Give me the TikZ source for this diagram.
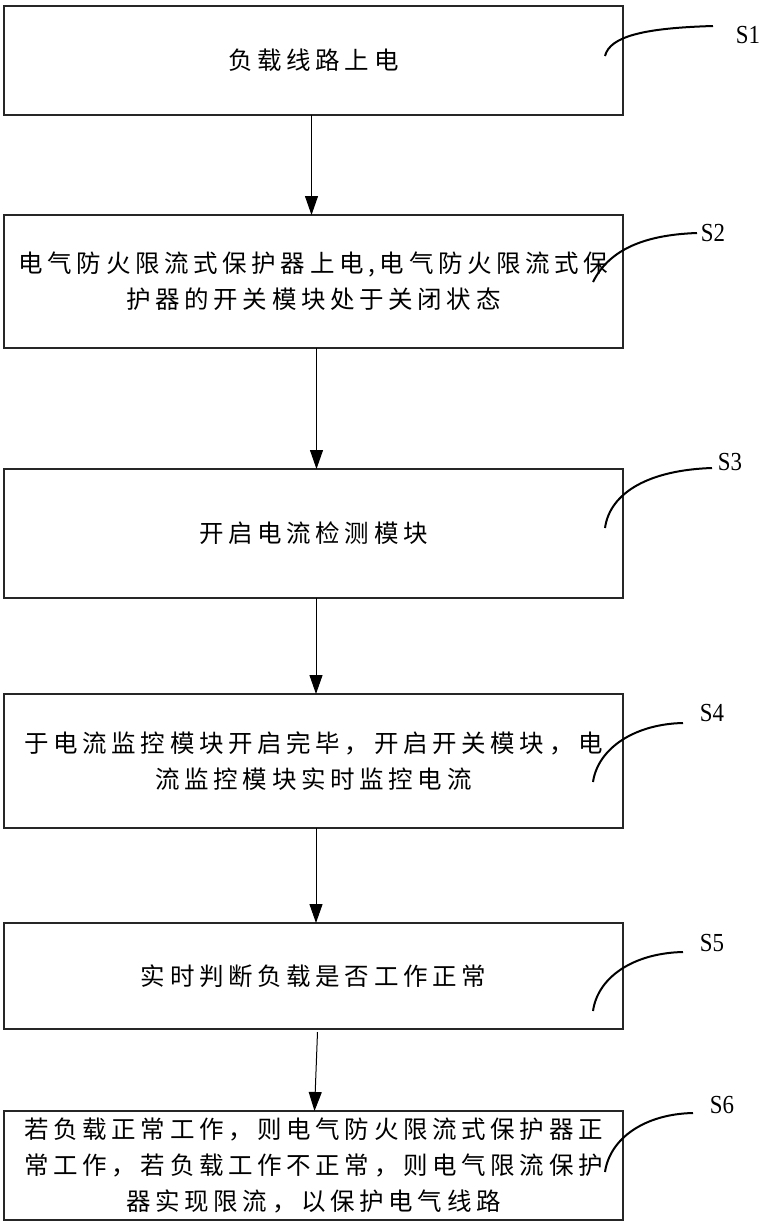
\documentclass[tikz,border=0pt]{standalone}
\usepackage{fontspec}
\setmainfont{Liberation Serif}
\newfontfamily\cjk[LetterSpace=19]{Noto Sans CJK SC}
\usetikzlibrary{arrows.meta}
\tikzset{
  stepbox/.style={draw=black!85, line width=1.5pt, rectangle, inner sep=0pt, outer sep=0pt,
    minimum width=619pt, align=center, font=\cjk\fontsize{24.5pt}{36pt}\selectfont},
  flow/.style={draw=black, line width=1pt, -{Triangle[length=19pt,width=13pt]}},
  lead/.style={draw=black, line width=2pt},
  steplabel/.style={font=\fontsize{26pt}{30pt}\selectfont, inner sep=0pt, xscale=0.88, transform shape}
}
\begin{document}
\begin{tikzpicture}[x=1pt,y=-1pt]
\useasboundingbox (0,0) rectangle (765,1224);
\node[stepbox, minimum height=109pt] (b1) at (313.5,60.5) {负载线路上电};
\node[stepbox, minimum height=133pt] (b2) at (313.5,281.5) {电气防火限流式保护器上电,电气防火限流式保\\护器的开关模块处于关闭状态};
\node[stepbox, minimum height=129pt] (b3) at (313.5,533.5) {开启电流检测模块};
\node[stepbox, minimum height=134pt] (b4) at (313.5,761) {于电流监控模块开启完毕，开启开关模块，电\\流监控模块实时监控电流};
\node[stepbox, minimum height=106pt] (b5) at (313.5,976) {实时判断负载是否工作正常};
\node[stepbox, minimum height=109pt] (b6) at (313.5,1165.5) {若负载正常工作，则电气防火限流式保护器正\\常工作，若负载工作不正常，则电气限流保护\\器实现限流，以保护电气线路};

\draw[flow] ([xshift=-2pt]b1.south) -- ([xshift=-2pt]b2.north);
\draw[flow] ([xshift=3pt]b2.south) -- ([xshift=3pt]b3.north);
\draw[flow] ([xshift=2.5pt]b3.south) -- ([xshift=2.5pt]b4.north);
\draw[flow] ([xshift=2.5pt]b4.south) -- ([xshift=2.5pt]b5.north);
\draw[flow] ([xshift=4pt,yshift=-3pt]b5.south) -- ([xshift=1pt]b6.north);

\node[steplabel] (s1) at (748,35) {S1};
\node[steplabel] (s2) at (713,233) {S2};
\node[steplabel] (s3) at (730,462) {S3};
\node[steplabel] (s4) at (712,713) {S4};
\node[steplabel] (s5) at (712,943) {S5};
\node[steplabel] (s6) at (722,1105) {S6};

\coordinate (c1) at (605,56);
\coordinate (e1) at (713,26);
\coordinate (c2) at (593,282);
\coordinate (e2) at (697,233);
\coordinate (c3) at (605,528);
\coordinate (e3) at (712,468);
\coordinate (c4) at (593,782);
\coordinate (e4) at (683,723);
\coordinate (c5) at (593,1011);
\coordinate (e5) at (683,952);
\coordinate (c6) at (605,1172);
\coordinate (e6) at (693,1113);
\draw[lead] (c1) .. controls (610,36) and (645,28) .. (e1);
\draw[lead] (c2) .. controls (608,252) and (640,235) .. (e2);
\draw[lead] (c3) .. controls (610,492) and (650,470) .. (e3);
\draw[lead] (c4) .. controls (598,748) and (635,724) .. (e4);
\draw[lead] (c5) .. controls (598,976) and (635,953) .. (e5);
\draw[lead] (c6) .. controls (610,1138) and (645,1114) .. (e6);
\end{tikzpicture}
\end{document}
